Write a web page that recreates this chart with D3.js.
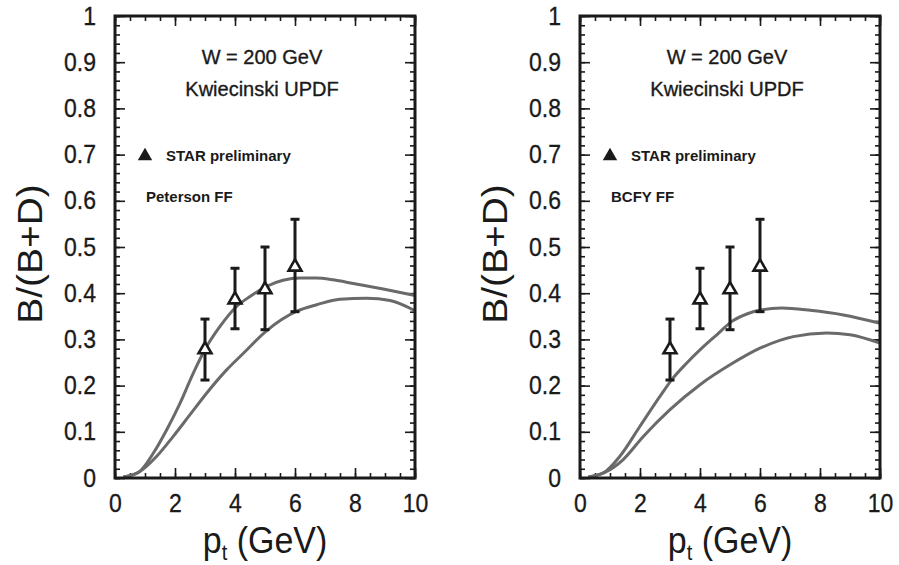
<!DOCTYPE html>
<html><head><meta charset="utf-8">
<script src="https://cdn.jsdelivr.net/npm/d3@7"></script>
<style>
html,body{margin:0;padding:0;background:#fff;}
svg{display:block;}
text{font-family:"Liberation Sans",Arial,sans-serif;fill:#1a1a1a;}
</style></head>
<body>
<svg id="c" width="899" height="565"></svg>
<script>
// ---- data ----
const ptData = [3, 4, 5, 6];
const ratioData = [0.278, 0.386, 0.408, 0.457];
const errLow = [0.212, 0.323, 0.321, 0.360];
const errHigh = [0.344, 0.454, 0.500, 0.560];

const petUpperX = [0.28, 0.78, 1.28, 1.72, 2.17, 2.61, 3.06, 3.5, 4.0, 4.5, 5.06, 5.6, 6.17, 6.7, 7.28, 7.94, 8.94, 10];
const petUpperY = [0.002, 0.012, 0.054, 0.104, 0.162, 0.227, 0.285, 0.328, 0.368, 0.393, 0.415, 0.428, 0.433, 0.433, 0.429, 0.421, 0.409, 0.395];
const petLowerX = [0.28, 0.83, 1.39, 1.94, 2.5, 3.06, 3.72, 4.28, 5.06, 6.06, 6.72, 7.5, 8.39, 9.17, 10];
const petLowerY = [0.002, 0.014, 0.047, 0.090, 0.137, 0.184, 0.234, 0.270, 0.319, 0.361, 0.375, 0.387, 0.389, 0.384, 0.362];

const bcfyUpperX = [0.28, 0.78, 1.33, 2.0, 2.67, 3.06, 3.56, 4.06, 4.56, 5.06, 5.56, 6.06, 6.72, 7.67, 8.78, 10];
const bcfyUpperY = [0.002, 0.011, 0.047, 0.112, 0.177, 0.213, 0.249, 0.281, 0.310, 0.339, 0.355, 0.364, 0.368, 0.363, 0.353, 0.335];
const bcfyLowerX = [0.28, 0.83, 1.44, 2.11, 3.0, 4.0, 5.0, 6.0, 7.11, 8.22, 9.0, 10];
const bcfyLowerY = [0.002, 0.012, 0.040, 0.090, 0.148, 0.202, 0.245, 0.281, 0.306, 0.314, 0.310, 0.292];

const xMajorTicks = [0, 2, 4, 6, 8, 10];
const yMajorTicks = [0, 0.1, 0.2, 0.3, 0.4, 0.5, 0.6, 0.7, 0.8, 0.9, 1];
const yTickLabels = ["0", "0.1", "0.2", "0.3", "0.4", "0.5", "0.6", "0.7", "0.8", "0.9", "1"];
const xTickLabels = ["0", "2", "4", "6", "8", "10"];

const panels = [
  {left: 115, label: "Peterson FF", curves: [[petUpperX, petUpperY], [petLowerX, petLowerY]]},
  {left: 580, label: "BCFY FF", curves: [[bcfyUpperX, bcfyUpperY], [bcfyLowerX, bcfyLowerY]]}
];

const svg = d3.select("#c");
const yTop = 16, yBot = 478, W = 300;
const ink = "#1a1a1a";

panels.forEach(p => {
  const x = d3.scaleLinear().domain([0, 10]).range([p.left, p.left + W]);
  const y = d3.scaleLinear().domain([0, 1]).range([yBot, yTop]);
  const g = svg.append("g");

  const xMinor = d3.range(0, 10.001, 0.5);
  const yMinor = d3.range(0, 1.0001, 0.02);

  function styleAxis(sel){
    sel.select(".domain").remove();
    sel.selectAll(".tick line").attr("stroke", ink).attr("stroke-width", 1.6);
  }
  g.append("g").attr("transform", `translate(0,${yBot})`)
    .call(d3.axisBottom(x).tickValues(xMinor).tickSize(-5).tickFormat("")).call(styleAxis);
  g.append("g").attr("transform", `translate(0,${yTop})`)
    .call(d3.axisTop(x).tickValues(xMinor).tickSize(-5).tickFormat("")).call(styleAxis);
  g.append("g").attr("transform", `translate(${p.left},0)`)
    .call(d3.axisLeft(y).tickValues(yMinor).tickSize(-5).tickFormat("")).call(styleAxis);
  g.append("g").attr("transform", `translate(${p.left + W},0)`)
    .call(d3.axisRight(y).tickValues(yMinor).tickSize(-5).tickFormat("")).call(styleAxis);
  const xb = g.append("g").attr("transform", `translate(0,${yBot})`)
    .call(d3.axisBottom(x).tickValues(xMajorTicks).tickSize(-10).tickPadding(16)
      .tickFormat((d, i) => xTickLabels[i])).call(styleAxis);
  xb.selectAll("text").attr("font-size", 23).attr("font-family", "Liberation Sans").attr("fill", ink)
    .attr("stroke", ink).attr("stroke-width", 0.3)
    .attr("transform", "translate(0,-2) scale(1,1.1)");
  g.append("g").attr("transform", `translate(0,${yTop})`)
    .call(d3.axisTop(x).tickValues(xMajorTicks).tickSize(-10).tickFormat("")).call(styleAxis);
  const yl = g.append("g").attr("transform", `translate(${p.left},0)`)
    .call(d3.axisLeft(y).tickValues(yMajorTicks).tickSize(-10).tickPadding(19)
      .tickFormat((d, i) => yTickLabels[i])).call(styleAxis);
  yl.selectAll("text").attr("font-size", 23).attr("font-family", "Liberation Sans").attr("fill", ink)
    .attr("stroke", ink).attr("stroke-width", 0.3)
    .attr("transform", "scale(1,1.1)");
  g.append("g").attr("transform", `translate(${p.left + W},0)`)
    .call(d3.axisRight(y).tickValues(yMajorTicks).tickSize(-10).tickFormat("")).call(styleAxis);

  const line = d3.line().x(d => x(d[0])).y(d => y(d[1])).curve(d3.curveMonotoneX);
  p.curves.forEach(([cx, cy]) => {
    g.append("path").datum(cx.map((v, i) => [v, cy[i]]))
      .attr("d", line).attr("fill", "none").attr("stroke", "#6a6a6a").attr("stroke-width", 3);
  });

  ptData.forEach((v, i) => {
    g.append("line").attr("x1", x(v)).attr("x2", x(v)).attr("y1", y(errLow[i])).attr("y2", y(errHigh[i]))
      .attr("stroke", ink).attr("stroke-width", 3);
    [errLow[i], errHigh[i]].forEach(e => {
      g.append("line").attr("x1", x(v) - 4.5).attr("x2", x(v) + 4.5).attr("y1", y(e)).attr("y2", y(e))
        .attr("stroke", ink).attr("stroke-width", 3);
    });
  });
  const tri = d3.symbol().type(d3.symbolTriangle).size(72);
  ptData.forEach((v, i) => {
    g.append("path").attr("d", tri).attr("transform", `translate(${x(v)},${y(ratioData[i])})`)
      .attr("fill", "#fff").attr("stroke", ink).attr("stroke-width", 2.6);
  });

  g.append("rect").attr("x", p.left).attr("y", yTop).attr("width", W).attr("height", yBot - yTop)
    .attr("fill", "none").attr("stroke", ink).attr("stroke-width", 3);

  const cx = p.left + 147;
  g.append("text").attr("x", cx).attr("y", 64).attr("text-anchor", "middle").attr("font-size", 20)
    .attr("stroke", ink).attr("stroke-width", 0.35).text("W = 200 GeV");
  g.append("text").attr("x", cx).attr("y", 96).attr("text-anchor", "middle").attr("font-size", 20)
    .attr("stroke", ink).attr("stroke-width", 0.35).text("Kwiecinski UPDF");
  g.append("path").attr("d", d3.symbol().type(d3.symbolTriangle).size(90))
    .attr("transform", `translate(${p.left + 30},${156})`).attr("fill", ink);
  g.append("text").attr("x", p.left + 51).attr("y", 161).attr("font-size", 15).attr("font-weight", "bold").text("STAR preliminary");
  g.append("text").attr("x", p.left + 31).attr("y", 202).attr("font-size", 15).attr("font-weight", "bold").text(p.label);

  g.append("text").attr("transform", `translate(${p.left - 73},${254}) scale(1,1.08) rotate(-90)`)
    .attr("text-anchor", "middle").attr("font-size", 36).text("B/(B+D)");
  const tx = g.append("text").attr("transform", `translate(${p.left + 150},553) scale(1,1.1)`)
    .attr("text-anchor", "middle").attr("font-size", 34);
  tx.append("tspan").text("p");
  tx.append("tspan").attr("font-size", 20).attr("dy", 6).text("t");
  tx.append("tspan").attr("dy", -6).text(" (GeV)");
});
</script>
</body></html>
